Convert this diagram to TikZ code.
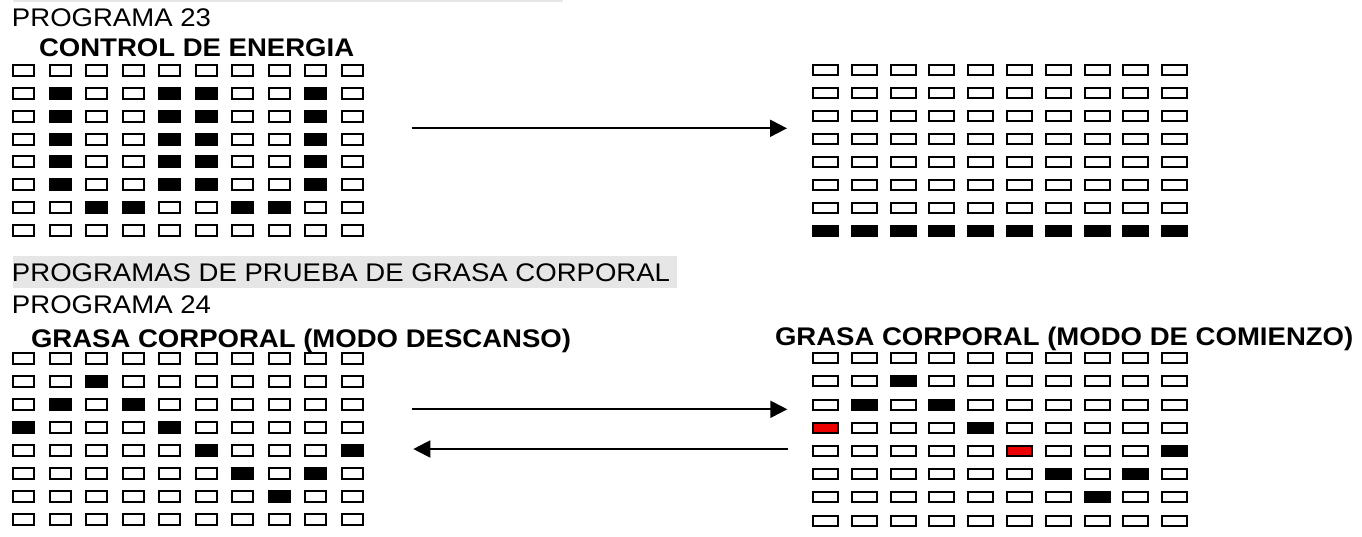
\documentclass[tikz,border=0pt]{standalone}
\usepackage{fontspec}
\setmainfont{Liberation Sans}[FakeStretch=1.08]
\usetikzlibrary{arrows.meta}

\definecolor{markgray}{RGB}{230,230,230}
\definecolor{ledred}{RGB}{237,0,0}

\tikzset{
  led/.style={draw, rectangle, line width=2pt, inner sep=0pt, outer sep=0pt,
    minimum width=21pt, minimum height=11pt},
  wideled/.style={led, minimum width=25pt, minimum height=10pt},
  ledon/.style={fill=black},
  ledred/.style={fill=ledred},
  title/.style={anchor=base west, inner sep=0pt, font=\fontsize{25.5}{30}\selectfont},
  heading/.style={title, font=\fontsize{25.5}{30}\selectfont\bfseries},
}

\begin{document}
\begin{tikzpicture}[x=1pt,y=-1pt,>={Triangle[length=17pt,width=17pt]},line width=2pt]
  \useasboundingbox (0,0) rectangle (1362,537);
  \fill[markgray] (13,0) rectangle (563,2);

  % programa 23
  \node[title] (p23) at (11,26.7) {PROGRAMA 23};
  \node[heading] (energia) at (38,57) {CONTROL DE ENERGIA};

  \foreach \r in {0,...,7}
    \foreach \c in {0,...,9}
      \node[led] (tl-\r-\c) at (23.5+36.56*\c, 70.8+22.8*\r) {};
  \foreach \r in {1,...,5}
    \foreach \c in {1,4,5,8}
      \node[led,ledon] at (tl-\r-\c) {};
  \foreach \c in {2,3,6,7}
    \node[led,ledon] at (tl-6-\c) {};

  \foreach \r in {0,...,7}
    \foreach \c in {0,...,9}
      \node[wideled] (tr-\r-\c) at (825.5+38.8*\c, 70.5+22.96*\r) {};
  \foreach \c in {0,...,9}
    \node[wideled,ledon] at (tr-7-\c) {};

  \coordinate (go1) at (411.7,128.3);
  \coordinate (to1) at (787,128.3);
  \draw[->] (go1) -- (to1);

  % programa 24
  \fill[markgray] (13,256) rectangle (677,288);
  \node[title] (grasa) at (11,281.7) {PROGRAMAS DE PRUEBA DE GRASA CORPORAL};
  \node[title] (p24) at (11,313.3) {PROGRAMA 24};
  \node[heading] (descanso) at (30,347) {GRASA CORPORAL (MODO DESCANSO)};
  \node[heading] (comienzo) at (774,345) {GRASA CORPORAL (MODO DE COMIENZO)};

  \foreach \r in {0,...,7}
    \foreach \c in {0,...,9}
      \node[led] (bl-\r-\c) at (23.5+36.56*\c, 358.2+23.1*\r) {};
  \foreach \r/\c in {1/2,2/1,2/3,3/0,3/4,4/5,4/9,5/6,5/8,6/7}
    \node[led,ledon] at (bl-\r-\c) {};

  \foreach \r in {0,...,7}
    \foreach \c in {0,...,9}
      \node[wideled] (br-\r-\c) at (825.5+38.8*\c, 358.2+23.2*\r) {};
  \foreach \r/\c in {1/2,2/1,2/3,3/4,4/9,5/6,5/8,6/7}
    \node[wideled,ledon] at (br-\r-\c) {};
  \foreach \r/\c in {3/0,4/5}
    \node[wideled,ledred] at (br-\r-\c) {};

  \coordinate (go2) at (411.7,409.3);
  \coordinate (to2) at (787.3,409.3);
  \coordinate (back2) at (788,449);
  \coordinate (home2) at (413.3,449);
  \draw[->] (go2) -- (to2);
  \draw[->] (back2) -- (home2);
\end{tikzpicture}
\end{document}
